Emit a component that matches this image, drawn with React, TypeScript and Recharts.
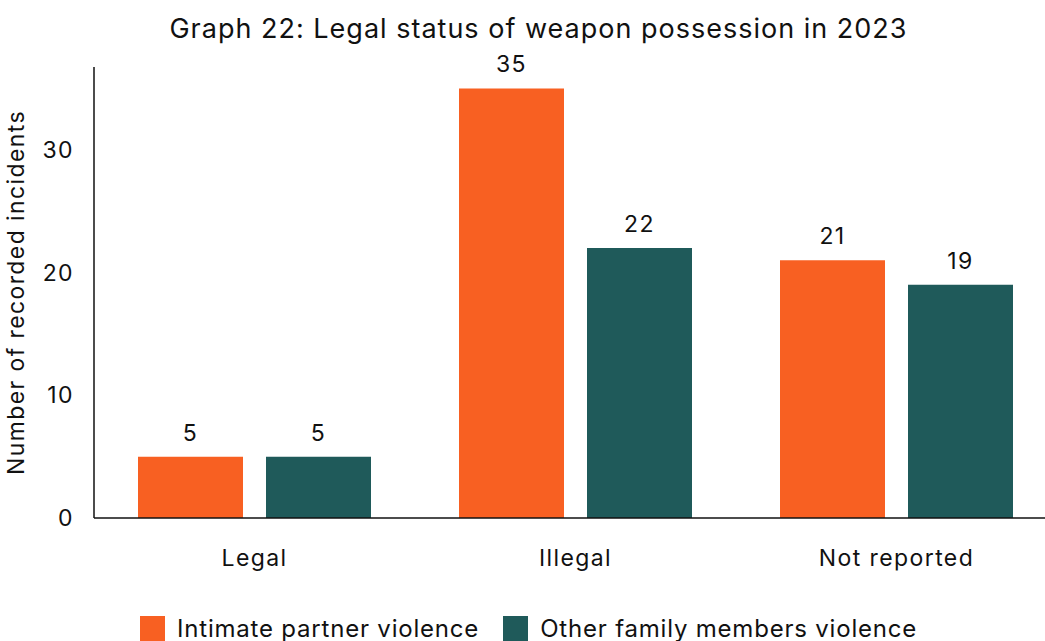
import React from 'react';
import { BarChart, Bar, XAxis, YAxis, LabelList } from 'recharts';

const categories = ['Legal', 'Illegal', 'Not reported'];
const intimatePartner = [5, 35, 21];
const otherFamily = [5, 22, 19];
const yTicks = [0, 10, 20, 30];

const SERIES = [
  { key: 'intimate', name: 'Intimate partner violence', color: '#F86022' },
  { key: 'family', name: 'Other family members violence', color: '#1F5A5A' },
];

const data = categories.map((c, i) => ({
  category: c,
  intimate: intimatePartner[i],
  family: otherFamily[i],
}));

const FONT = 'Inter, "DejaVu Sans", sans-serif';
const textStyle = { fill: '#111', fontSize: 23, fontFamily: FONT, letterSpacing: 1.4 };

const App = () => {
  return (
    <div style={{ position: 'absolute', left: 0, top: 0, width: 1045, height: 641, overflow: 'hidden', background: '#fff', fontFamily: FONT }}>
      {/* title */}
      <div style={{ position: 'absolute', top: 12, left: 0, width: 1077, textAlign: 'center', fontSize: 27, letterSpacing: 1, color: '#111' }}>
        Graph 22: Legal status of weapon possession in 2023
      </div>

      <BarChart
        width={1100}
        height={641}
        data={data}
        margin={{ top: 67, right: 43, bottom: 0, left: 0 }}
        barSize={105}
        barGap={23}
        style={{ position: 'absolute', left: 0, top: 0 }}
      >
        <XAxis
          dataKey="category"
          axisLine={{ stroke: '#111', strokeWidth: 1.5 }}
          tickLine={false}
          height={123}
          tick={textStyle}
          tickMargin={26}
        />
        <YAxis
          width={94}
          domain={[0, 36.75]}
          ticks={yTicks}
          axisLine={{ stroke: '#111', strokeWidth: 1.5 }}
          tickLine={false}
          tick={textStyle}
          tickMargin={14}
          label={{
            value: 'Number of recorded incidents',
            angle: -90,
            position: 'insideLeft',
            offset: 16,
            style: { ...textStyle, textAnchor: 'middle' },
          }}
        />
        {SERIES.map((s) => (
          <Bar key={s.key} dataKey={s.key} name={s.name} fill={s.color} isAnimationActive={false}>
            <LabelList dataKey={s.key} position="top" offset={16} style={textStyle} />
          </Bar>
        ))}
      </BarChart>

      {/* legend */}
      <div style={{ position: 'absolute', top: 614, left: 140, display: 'flex', alignItems: 'center', fontSize: 24, letterSpacing: 0.8, color: '#111', whiteSpace: 'nowrap' }}>
        {SERIES.map((s) => (
          <div key={s.key} style={{ display: 'flex', alignItems: 'center', marginRight: 24 }}>
            <span style={{ display: 'inline-block', width: 25, height: 25, background: s.color, marginRight: 12 }} />
            <span>{s.name}</span>
          </div>
        ))}
      </div>
    </div>
  );
};

export default App;
